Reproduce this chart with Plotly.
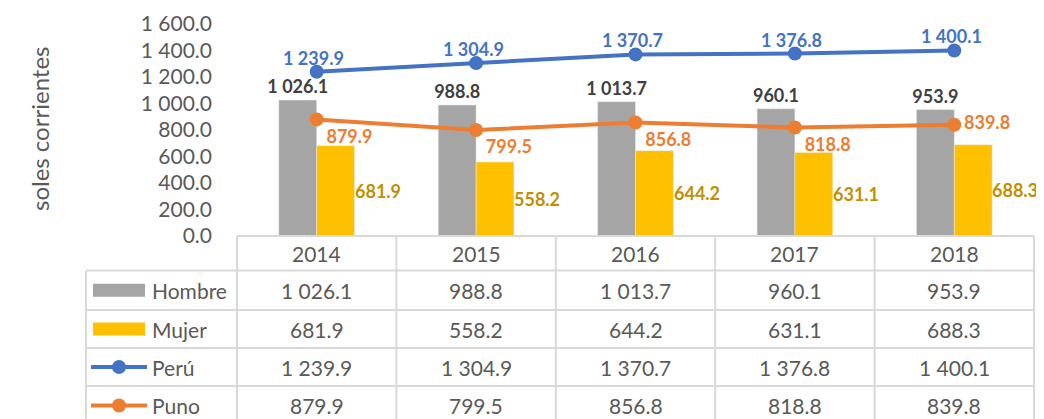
import plotly.graph_objects as go

years = ["2014", "2015", "2016", "2017", "2018"]
hombre = [1026.1, 988.8, 1013.7, 960.1, 953.9]
mujer = [681.9, 558.2, 644.2, 631.1, 688.3]
peru = [1239.9, 1304.9, 1370.7, 1376.8, 1400.1]
puno = [879.9, 799.5, 856.8, 818.8, 839.8]

C_H = "#A5A5A5"
C_M = "#FFC000"
C_P = "#4472C4"
C_U = "#ED7D31"
TXT = "#595959"
GRID = "#D9D9D9"
FONT = "Lato"

OFF = 8  # default page body margin
W, H = 1044, 419
# plot area in page pixel coordinates
L, R, T, B = 237, 1034, 24, 236


def fmt(v):
    return f"{v:,.1f}".replace(",", " ")


def xp(px):
    return (px - L) / (R - L)


def yp(py):
    return (B - py) / (B - T)


def cat_x(i):
    return (i + 0.5) / len(years)


fig = go.Figure()
fig.add_trace(go.Bar(x=years, y=hombre, name="Hombre", marker_color=C_H,
                     text=[fmt(v) for v in hombre], textposition="outside",
                     constraintext="none", cliponaxis=False,
                     textfont=dict(family=FONT, size=18, color="#404040", weight="bold")))
fig.add_trace(go.Bar(x=years, y=mujer, name="Mujer", marker_color=C_M))
fig.add_trace(go.Scatter(x=years, y=peru, name="Perú", mode="lines+markers",
                         line=dict(color=C_P, width=4), marker=dict(size=14, color=C_P),
                         cliponaxis=False))
fig.add_trace(go.Scatter(x=years, y=puno, name="Puno", mode="lines+markers+text",
                         line=dict(color=C_U, width=4), marker=dict(size=14, color=C_U),
                         text=[fmt(v) for v in puno],
                         textposition=["bottom right"] * 4 + ["middle right"],
                         cliponaxis=False,
                         textfont=dict(family=FONT, size=18, color=C_U, weight="bold")))

annotations = []
# Perú labels above the markers
for i, v in enumerate(peru):
    annotations.append(dict(x=i, y=v, xref="x", yref="y", text=fmt(v), showarrow=False,
                            xanchor="center", yanchor="middle", yshift=14, xshift=-3,
                            font=dict(family=FONT, size=18, color=C_P, weight="bold")))
# Mujer labels to the right of the yellow bars
for i, v in enumerate(mujer):
    annotations.append(dict(x=i, y=v / 2, xref="x", yref="y", text=fmt(v),
                            showarrow=False, xanchor="left", yanchor="middle", xshift=36,
                            font=dict(family=FONT, size=18, color="#BF9000", weight="bold")))

# axis title
annotations.append(dict(x=xp(40), y=yp(129), xref="paper", yref="paper",
                        xanchor="center", yanchor="middle",
                        text="soles corrientes", textangle=-90, showarrow=False,
                        font=dict(family=FONT, size=24, color=TXT)))

# data table
rows_y = [236, 270.5, 310, 348, 386, 425]
centers = [(rows_y[i] + rows_y[i + 1]) / 2 for i in range(5)]
series = [("Hombre", hombre), ("Mujer", mujer), ("Perú", peru), ("Puno", puno)]
for i, yr in enumerate(years):
    annotations.append(dict(x=cat_x(i), y=yp(centers[0]), xref="paper", yref="paper",
                            text=yr, showarrow=False, xanchor="center", yanchor="middle",
                            font=dict(family=FONT, size=21, color=TXT)))
for r, (name, vals) in enumerate(series):
    cy = yp(centers[r + 1])
    annotations.append(dict(x=xp(150), y=cy, xref="paper", yref="paper", text=name,
                            xanchor="left", yanchor="middle", showarrow=False,
                            font=dict(family=FONT, size=21, color=TXT)))
    for i, v in enumerate(vals):
        annotations.append(dict(x=cat_x(i), y=cy, xref="paper", yref="paper", text=fmt(v),
                                xanchor="center", yanchor="middle", showarrow=False,
                                font=dict(family=FONT, size=21, color=TXT)))

shapes = []
# outer border
shapes.append(dict(type="rect", xref="paper", yref="paper", x0=xp(7), x1=xp(1040),
                   y0=yp(7), y1=yp(440), line=dict(color=GRID, width=1.5)))
# horizontal table lines
shapes.append(dict(type="line", xref="paper", yref="paper", x0=0, x1=1,
                   y0=yp(236), y1=yp(236), line=dict(color=GRID, width=2)))
for ry in rows_y[1:]:
    shapes.append(dict(type="line", xref="paper", yref="paper", x0=xp(86), x1=1,
                       y0=yp(ry), y1=yp(ry), line=dict(color=GRID, width=2)))
# vertical table lines (column borders)
for k in range(len(years) + 1):
    cx = k / len(years)
    shapes.append(dict(type="line", xref="paper", yref="paper", x0=cx, x1=cx,
                       y0=yp(236), y1=yp(425), line=dict(color=GRID, width=2)))
shapes.append(dict(type="line", xref="paper", yref="paper", x0=xp(86), x1=xp(86),
                   y0=yp(270.5), y1=yp(425), line=dict(color=GRID, width=2)))
# legend keys
for r, col in enumerate([C_H, C_M]):
    cy = centers[r + 1]
    shapes.append(dict(type="rect", xref="paper", yref="paper", x0=xp(93), x1=xp(145),
                       y0=yp(cy - 6.5), y1=yp(cy + 6.5), fillcolor=col, line=dict(width=0)))
for r, col in enumerate([C_P, C_U]):
    cy = centers[r + 3]
    shapes.append(dict(type="line", xref="paper", yref="paper", x0=xp(91), x1=xp(147),
                       y0=yp(cy), y1=yp(cy), line=dict(color=col, width=4)))
    shapes.append(dict(type="circle", xref="paper", yref="paper", x0=xp(112), x1=xp(126),
                       y0=yp(cy - 7), y1=yp(cy + 7), fillcolor=col, line=dict(width=0)))

fig.update_layout(
    width=W, height=H,
    margin=dict(l=L - OFF, r=(W + OFF) - R, t=T - OFF, b=(H + OFF) - B, autoexpand=False),
    paper_bgcolor="white", plot_bgcolor="white",
    barmode="group", bargap=0.525, bargroupgap=0,
    showlegend=False,
    separators=". ",
    font=dict(family=FONT, color=TXT),
    xaxis=dict(type="category", showticklabels=False, showgrid=False, zeroline=False,
               showline=False, range=[-0.5, 4.5]),
    yaxis=dict(range=[0, 1600], dtick=200, tickformat=",.1f", showgrid=False,
               zeroline=False, showline=False, ticklabelstandoff=24,
               tickfont=dict(family=FONT, size=21, color=TXT)),
    annotations=annotations,
    shapes=shapes,
)

fig.write_html("out.html")
